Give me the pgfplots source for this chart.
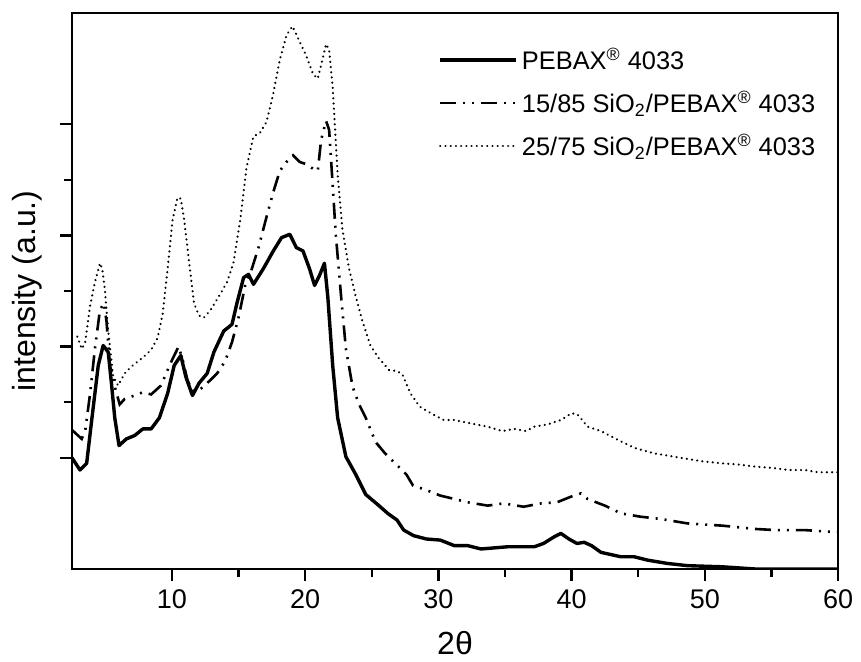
\documentclass[border=0pt]{standalone}
\usepackage{fontspec}
\setmainfont{Liberation Sans}
\usepackage{pgfplots}
\pgfplotsset{compat=1.18}
\usetikzlibrary{calc}
\tikzset{ddot/.style={line width=1.3pt, dash pattern=on 8pt off 3.5pt on 1pt off 3.5pt on 1pt off 3.5pt}}
\begin{document}
\begin{tikzpicture}
\begin{axis}[
  scale only axis, width=383pt, height=278pt,
  xmin=2.5, xmax=60, ymin=0, ymax=5,
  xtick={10,20,30,40,50,60}, minor x tick num=1,
  ytick={1,2,3,4}, minor y tick num=1, yticklabels={},
  tick pos=left, tick align=outside,
  major tick length=6pt, minor tick length=4pt,
  every tick/.style={black, line width=1.2pt},
  axis line style={line width=1.3pt},
  /pgf/number format/assume math mode=true,
  tick label style={font=\fontsize{13.5}{15}\selectfont},
  xticklabel style={yshift=-1pt},
  xlabel={2θ}, ylabel={intensity (a.u.)},
  label style={font=\fontsize{16}{18}\selectfont},
  xlabel style={at={(axis description cs:0.5,0)}, anchor=center, yshift=-37pt},
  ylabel style={at={(axis description cs:-0.058,0.5)}, anchor=center},
  legend style={draw=none, fill=none, at={(rel axis cs:0.478,0.945)}, anchor=north west,
    font=\fontsize{12.7}{14}\selectfont, row sep=5.5pt, inner sep=0pt},
  legend cell align=left,
  legend image code/.code={\draw[#1] (0pt,0pt) -- (38pt,0pt);},
]
\addplot[black, line width=1.7pt, line join=round] coordinates {
(2.5,1.00)(3.1,0.89)(3.6,0.95)(4.0,1.36)(4.47,1.83)(4.84,2.01)(5.22,1.95)(5.46,1.67)(5.71,1.36)(6.03,1.11)
(6.58,1.17)(7.2,1.20)(7.82,1.26)(8.44,1.26)(9.06,1.36)(9.68,1.58)(10.17,1.83)(10.67,1.92)(11.04,1.73)(11.54,1.56)
(12.03,1.67)(12.65,1.76)(13.15,1.95)(13.89,2.14)(14.51,2.20)(14.88,2.39)(15.38,2.62)(15.75,2.65)(16.12,2.56)(16.86,2.70)
(17.61,2.86)(18.23,2.98)(18.85,3.01)(19.34,2.89)(19.84,2.86)(20.33,2.70)(20.71,2.55)(21.08,2.64)(21.45,2.75)(21.7,2.45)
(22.07,1.83)(22.44,1.36)(23.06,1.01)(23.8,0.85)(24.55,0.67)(25.54,0.57)(26.2,0.50)(26.9,0.44)(27.4,0.35)(28.14,0.30)
(29.1,0.27)(30.15,0.26)(31.2,0.21)(32.2,0.21)(33.2,0.18)(34.2,0.19)(35.2,0.20)(36.2,0.20)(37.2,0.20)(37.9,0.23)
(38.7,0.29)(39.2,0.32)(39.8,0.27)(40.4,0.23)(40.95,0.24)(41.5,0.21)(42.2,0.15)(43.7,0.11)(44.7,0.11)(45.7,0.08)
(47.2,0.05)(48.7,0.03)(51.3,0.02)(53.8,0.0)(56.3,0.0)(60,0.0)
};
\addlegendentry{PEBAX\textsuperscript{®} 4033}
\addplot[black, ddot] coordinates {
(2.5,1.25)(3.23,1.17)(3.5,1.25)(3.85,1.57)(4.22,1.98)(4.6,2.33)(4.89,2.39)(5.09,2.23)(5.34,1.83)(5.71,1.64)
(6.08,1.48)(6.46,1.53)(7.2,1.56)(7.82,1.59)(8.44,1.57)(9.18,1.65)(9.68,1.79)(10.05,1.89)(10.5,2.0)(10.79,1.89)
(11.16,1.70)(11.54,1.60)(12.16,1.62)(12.9,1.70)(13.4,1.76)(14.0,1.87)(14.51,2.04)(15.0,2.26)(15.5,2.55)(16.0,2.70)
(16.5,2.89)(17.11,3.17)(17.61,3.39)(18.1,3.58)(18.6,3.66)(19.1,3.72)(19.6,3.66)(20.1,3.64)(20.7,3.59)(20.95,3.58)
(21.2,3.86)(21.57,4.03)(21.8,3.95)(22.07,3.45)(22.3,3.01)(22.7,2.45)(23.06,1.98)(23.56,1.64)(24.05,1.48)(24.55,1.36)
(25.3,1.14)(26.0,1.04)(27.1,0.91)(27.6,0.85)(28.1,0.75)(29.1,0.71)(30.15,0.66)(31.2,0.63)(32.2,0.60)(33.7,0.57)
(34.9,0.59)(36.4,0.56)(37.7,0.59)(38.9,0.60)(39.95,0.65)(40.7,0.68)(41.2,0.63)(42.5,0.57)(43.7,0.50)(45.2,0.47)
(46.7,0.45)(48.7,0.41)(51.3,0.39)(53.8,0.36)(55.3,0.35)(57.5,0.35)(60,0.33)
};
\addlegendentry{15/85 SiO\textsubscript{2}/PEBAX\textsuperscript{®} 4033}
\addplot[black, line width=1.2pt, line cap=round, dash pattern=on 0.01pt off 2.6pt] coordinates {
(2.9,2.09)(3.23,1.98)(3.48,2.03)(3.85,2.36)(4.22,2.58)(4.6,2.75)(4.77,2.70)(4.97,2.51)(5.22,2.14)(5.59,1.73)
(5.96,1.65)(6.46,1.76)(6.95,1.82)(7.7,1.89)(8.44,1.97)(8.93,2.08)(9.3,2.29)(9.68,2.70)(10.05,3.14)(10.42,3.34)
(10.67,3.33)(10.92,3.14)(11.29,2.76)(11.66,2.39)(12.03,2.28)(12.4,2.26)(12.9,2.33)(13.52,2.45)(14.14,2.58)(14.63,2.76)
(15.13,3.14)(15.6,3.61)(16.12,3.89)(16.6,3.92)(17.1,4.02)(17.6,4.27)(18.1,4.58)(18.6,4.80)(19.05,4.88)(19.6,4.74)
(20.1,4.61)(20.6,4.45)(20.95,4.41)(21.3,4.58)(21.57,4.72)(21.8,4.67)(22.07,4.33)(22.44,3.55)(22.8,3.05)(23.3,2.70)
(23.8,2.45)(24.3,2.23)(24.9,2.01)(25.5,1.90)(26.3,1.79)(26.9,1.78)(27.3,1.75)(27.9,1.58)(28.6,1.46)(29.6,1.39)
(30.4,1.34)(31.2,1.34)(32.4,1.31)(33.7,1.28)(34.8,1.24)(35.7,1.26)(36.6,1.24)(37.2,1.28)(38.2,1.30)(39.2,1.34)
(40.0,1.40)(40.45,1.39)(41.2,1.28)(42.2,1.24)(43.5,1.16)(44.7,1.09)(46.2,1.04)(47.7,1.01)(49.7,0.97)(51.3,0.95)
(52.5,0.94)(53.8,0.92)(55.0,0.91)(56.3,0.89)(57.5,0.89)(58.5,0.87)(60,0.87)
};
\addlegendentry{25/75 SiO\textsubscript{2}/PEBAX\textsuperscript{®} 4033}
\end{axis}
\path ($(current axis.south west)+(-36pt,-43pt)$) rectangle ($(current axis.north east)+(11.5pt,6.5pt)$);
\end{tikzpicture}
\end{document}
